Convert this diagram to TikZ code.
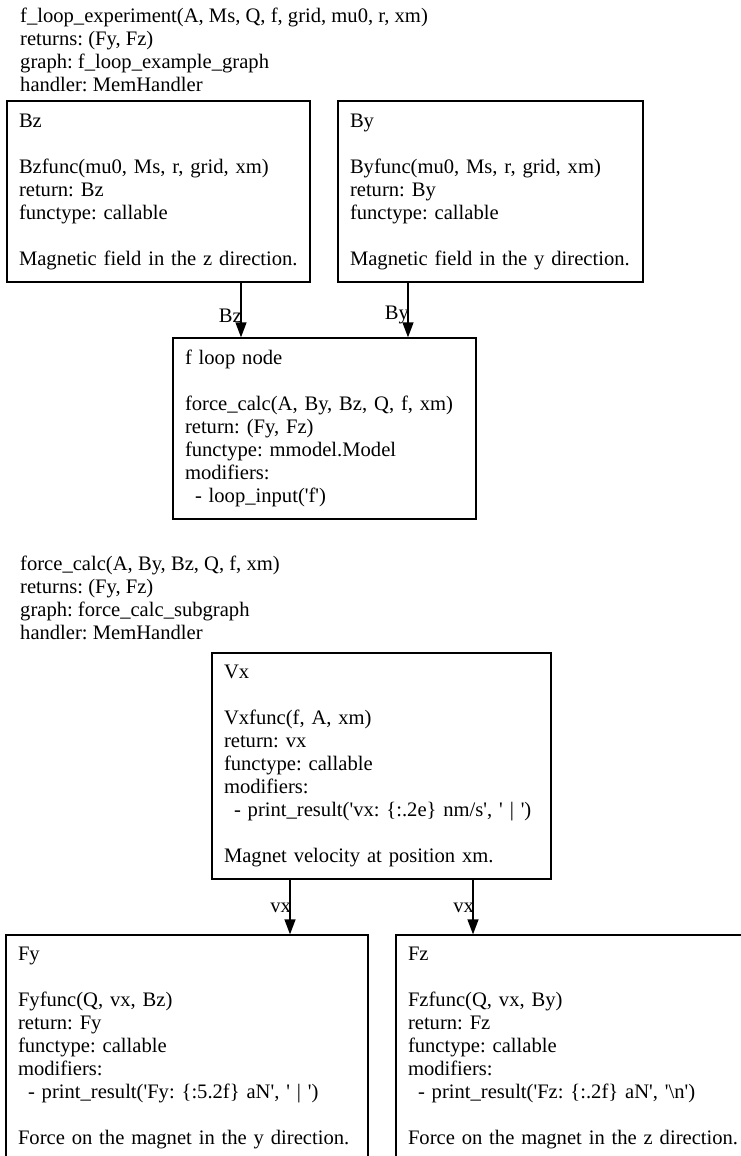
\documentclass[tikz,border=0pt]{standalone}
\usepackage{fontspec}
\setmainfont{Liberation Serif}
\usetikzlibrary{arrows.meta,positioning}
\newcommand{\Q}{\textquotesingle}
\newcommand{\fsz}{\fontsize{20.6}{23}\selectfont\frenchspacing}
\newcommand{\rows}[1]{\begin{tabular}{@{}l@{}}#1\end{tabular}}

\begin{document}
\begin{tikzpicture}[x=1pt,y=-1pt,
% Box and header style
fbox/.style={draw,line width=1.3pt,align=left,font=\fsz,
	inner xsep=12pt,inner ysep=0pt},
hdr/.style={anchor=north west,align=left,inner sep=0pt,font=\fsz},
% Edge and label style
arr/.style={line width=1.3pt,-{Triangle[length=15pt,width=11pt]}},
elbl/.style={anchor=east,inner sep=0pt,font=\fsz,xshift=1.5pt},
]
\useasboundingbox (0,0) rectangle (741,1156);
\clip (0,0) rectangle (741,1156);
%% Upper graph
\node[hdr] (hd1) at (20,7.5) {f\_loop\_experiment(A, Ms, Q, f, grid, mu0, r, xm)\\
	returns: (Fy, Fz)\\ graph: f\_loop\_example\_graph\\ handler: MemHandler};
\node[fbox,text width=279pt,minimum height=181pt] (bz) at (158.5,191.5)
	{\rows{Bz\\ \\ Bzfunc(mu0, Ms, r, grid, xm)\\ return: Bz\\ functype: callable\\ \\
	Magnetic field in the z direction.}};
\node[fbox,text width=281pt,minimum height=181pt] (by) at (490.5,191.5)
	{\rows{By\\ \\ Byfunc(mu0, Ms, r, grid, xm)\\ return: By\\ functype: callable\\ \\
	Magnetic field in the y direction.}};
\node[fbox,text width=279pt,minimum height=181pt] (floop) at (324.5,428.5)
	{\rows{f loop node\\ \\ force\_calc(A, By, Bz, Q, f, xm)\\ return: (Fy, Fz)\\
	functype: mmodel.Model\\ modifiers:\\ \hspace*{10pt}- loop\_input(\Q f\Q)}};
\draw[arr] ([xshift=82.5pt]bz.south) -- ([xshift=82.5pt]bz.south |- floop.north)
	node[elbl,pos=0.6] (lbz) {Bz};
\draw[arr] ([xshift=-82.5pt]by.south) -- ([xshift=-82.5pt]by.south |- floop.north)
	node[elbl,pos=0.6] (lby) {By};

%% Subgraph
\node[hdr] (hd2) at (20,555.5) {force\_calc(A, By, Bz, Q, f, xm)\\
	returns: (Fy, Fz)\\ graph: force\_calc\_subgraph\\ handler: MemHandler};
\node[fbox,text width=315pt,minimum height=226pt] (vx) at (381.5,766)
	{\rows{Vx\\ \\ Vxfunc(f, A, xm)\\ return: vx\\ functype: callable\\ modifiers:\\
	\hspace*{10pt}- print\_result(\Q vx: \{:.2e\} nm/s\Q, \Q\ |\ \Q)\\ \\
	Magnet velocity at position xm.}};
\node[fbox,text width=338pt,minimum height=226pt] (fy) at (187,1048)
	{\rows{Fy\\ \\ Fyfunc(Q, vx, Bz)\\ return: Fy\\ functype: callable\\ modifiers:\\
	\hspace*{10pt}- print\_result(\Q Fy: \{:5.2f\} aN\Q, \Q\ |\ \Q)\\ \\
	Force on the magnet in the y direction.}};
\node[fbox,text width=346pt,minimum height=226pt] (fz) at (581,1048)
	{\rows{Fz\\ \\ Fzfunc(Q, vx, By)\\ return: Fz\\ functype: callable\\ modifiers:\\
	\hspace*{10pt}- print\_result(\Q Fz: \{:.2f\} aN\Q, \Q\textbackslash n\Q)\\ \\
	Force on the magnet in the z direction.}};
\draw[arr] ([xshift=-91.5pt]vx.south) -- ([xshift=-91.5pt]vx.south |- fy.north)
	node[elbl,pos=0.52] (lvy) {vx};
\draw[arr] ([xshift=91.5pt]vx.south) -- ([xshift=91.5pt]vx.south |- fz.north)
	node[elbl,pos=0.52] (lvz) {vx};
\end{tikzpicture}
\end{document}
